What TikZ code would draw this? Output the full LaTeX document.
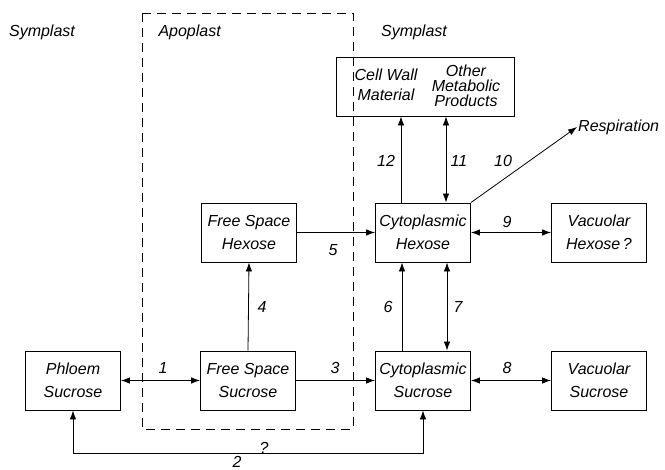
\documentclass[tikz,border=0pt]{standalone}
\usepackage{fontspec}
\setmainfont{Liberation Sans}
\usetikzlibrary{arrows.meta}

\begin{document}
\begin{tikzpicture}[x=1pt,y=-1pt,
  every node/.style={font=\fontsize{16}{23}\selectfont\itshape},
  pool/.style={draw,line width=0.9pt,minimum width=95pt,minimum height=59pt,inner sep=0pt,align=center},
  flow/.style={line width=0.8pt,-{Latex[length=9pt,width=6.5pt]}},
  both/.style={line width=0.8pt,{Latex[length=9pt,width=6.5pt]}-{Latex[length=9pt,width=6.5pt]}},
  num/.style={inner sep=0pt}]
\useasboundingbox (0,0) rectangle (665,470);
% apoplast region
\draw[dash pattern=on 9pt off 6pt,line width=0.8pt] (142,13) rectangle (353,429);
\node (symL) at (42,32) {Symplast};
\node[anchor=west] (apo) at (155,32) {Apoplast};
\node (symR) at (414,32) {Symplast};
% sucrose pools
\node[pool] (phloem) at (73,380.5) {Phloem\\Sucrose};
\node[pool] (fssuc) at (248,380.5) {Free Space\\Sucrose};
\node[pool] (cytsuc) at (423,380.5) {Cytoplasmic\\Sucrose};
\node[pool] (vacsuc) at (599,380.5) {Vacuolar\\Sucrose};
% hexose pools
\node[pool] (fshex) at (249,232.5) {Free Space\\Hexose};
\node[pool] (cythex) at (423,232.5) {Cytoplasmic\\Hexose};
\node[pool] (vachex) at (599,232.5) {Vacuolar\\Hexose\,?};
% products
\node[pool,minimum width=178pt] (prod) at (425,86.5) {};
\node[align=center,font=\fontsize{16}{20}\selectfont\itshape] (wall) at (386,85) {Cell Wall\\Material};
\node[align=center,font=\fontsize{16}{15}\selectfont\itshape] (other) at (466,85.5) {Other\\Metabolic\\Products};
\node[anchor=west,inner sep=1pt] (resp) at (577,127) {Respiration};
% transfers
\draw[both] (phloem) -- (fssuc);
\draw[flow] (fssuc) -- (cytsuc);
\draw[both] (cytsuc) -- (vacsuc);
\draw[flow] (fssuc.north) -- (fshex.south);
\draw[flow] (fshex) -- (cythex);
\draw[both] (cythex) -- (vachex);
\draw[flow] ([xshift=-21pt]cytsuc.north) -- ([xshift=-21pt]cythex.south);
\draw[both] ([xshift=24pt]cytsuc.north) -- ([xshift=24pt]cythex.south);
\draw[flow] ([xshift=-22pt]cythex.north) -- ([xshift=-22pt]cythex.north |- prod.south);
\draw[both] ([xshift=23pt]cythex.north) -- ([xshift=23pt]cythex.north |- prod.south);
\draw[flow] (cythex.north east) -- (resp.west);
\coordinate (low) at (0,453);
\draw[both] (phloem.south) -- (phloem.south |- low) -- (cytsuc.south |- low) -- (cytsuc.south);
% numbers
\node[num] (n1) at (163,368) {1};
\node[num] (n2) at (237,462) {2};
\node[num] (nq) at (264,448) {?};
\node[num] (n3) at (335,368) {3};
\node[num] (n4) at (262,307) {4};
\node[num] (n5) at (333,250) {5};
\node[num] (n6) at (388,307) {6};
\node[num] (n7) at (458,307) {7};
\node[num] (n8) at (507,368) {8};
\node[num] (n9) at (507,222) {9};
\node[num] (n10) at (503,161) {10};
\node[num] (n11) at (459,161) {11};
\node[num] (n12) at (386,161) {12};
\end{tikzpicture}
\end{document}
